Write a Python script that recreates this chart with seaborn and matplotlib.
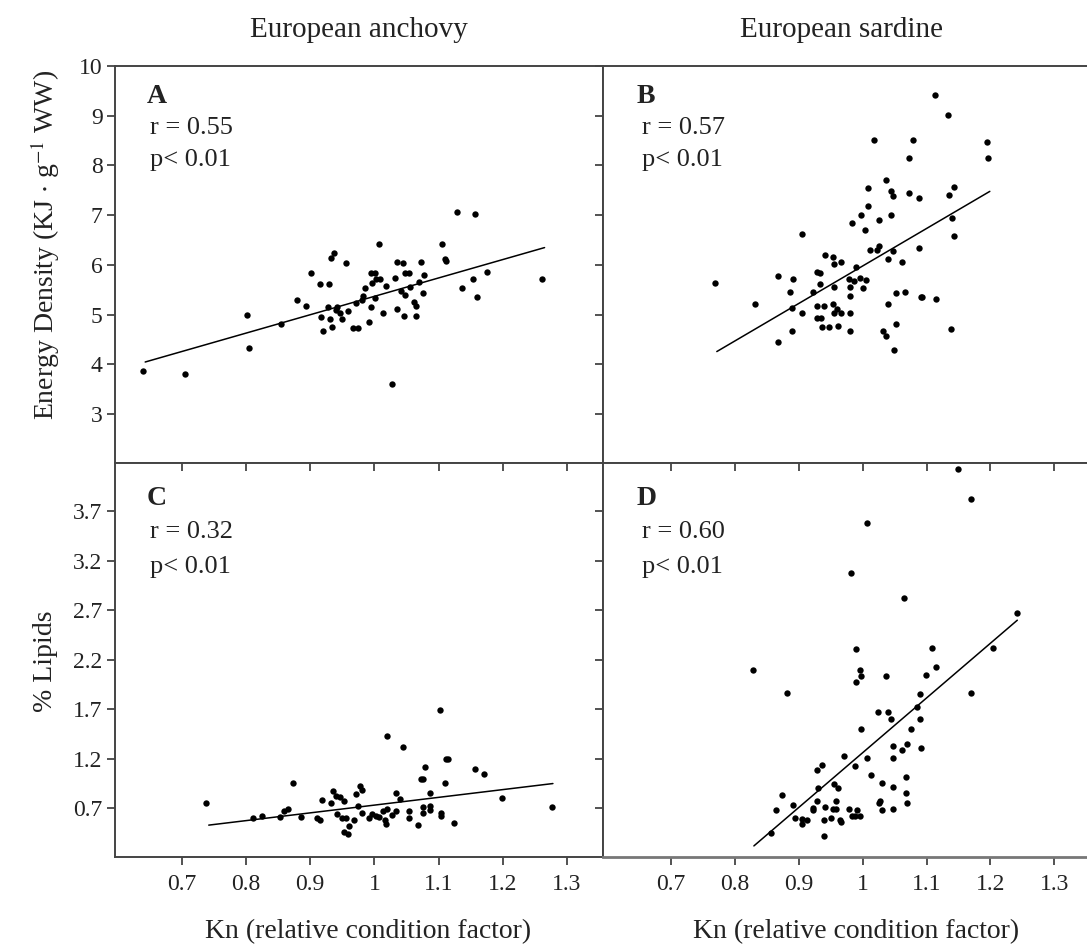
import numpy as np
import matplotlib
matplotlib.use("Agg")
import matplotlib.pyplot as plt
import seaborn as sns

# Panel A: anchovy, Kn vs energy density
a_kn = [0.640, 0.705, 0.801, 0.805, 0.854, 0.879, 0.893, 0.901, 0.915, 0.929,
        0.932, 0.937, 0.955, 0.927, 0.917, 0.920, 0.934, 0.931, 0.940, 0.946,
        0.949, 0.942, 0.959, 0.967, 0.975, 0.972, 0.980, 0.983, 0.985, 0.991,
        0.995, 1.001, 0.995, 1.001, 1.007, 1.003, 1.008, 0.997, 1.013, 1.018,
        1.027, 1.032, 1.035, 1.035, 1.045, 1.048, 1.054, 1.041, 1.047, 1.046,
        1.056, 1.061, 1.064, 1.064, 1.069, 1.073, 1.078, 1.076, 1.106, 1.110,
        1.112, 1.129, 1.156, 1.137, 1.154, 1.159, 1.175, 1.261]
a_ed = [3.87, 3.80, 5.00, 4.33, 4.81, 5.29, 5.17, 5.83, 5.61, 5.61,
        6.15, 6.24, 6.04, 5.15, 4.95, 4.68, 4.75, 4.91, 5.09, 5.03,
        4.91, 5.15, 5.08, 4.73, 4.73, 5.23, 5.29, 5.38, 5.53, 4.86,
        5.15, 5.33, 5.83, 5.84, 6.43, 5.71, 5.71, 5.63, 5.03, 5.57,
        3.61, 5.74, 5.11, 6.07, 6.04, 5.83, 5.83, 5.48, 5.39, 4.97,
        5.55, 5.26, 5.17, 4.97, 5.66, 6.07, 5.79, 5.43, 6.43, 6.13,
        6.08, 7.07, 7.03, 5.53, 5.71, 5.35, 5.86, 5.71]
a_fit_kn = [0.643, 1.265]
a_fit_ed = [4.05, 6.35]

# Panel B: sardine, Kn vs energy density
b_kn = [0.769, 0.831, 0.867, 0.867, 0.891, 0.886, 0.890, 0.889, 0.906, 0.905,
        0.923, 0.928, 0.934, 0.934, 0.929, 0.939, 0.929, 0.935, 0.937, 0.947,
        0.942, 0.953, 0.956, 0.966, 0.955, 0.953, 0.955, 0.960, 0.966, 0.962,
        0.981, 0.981, 0.981, 0.978, 0.986, 0.981, 0.990, 0.996, 1.001, 1.006,
        0.984, 0.998, 1.004, 1.009, 1.009, 1.018, 1.012, 1.022, 1.025, 1.025,
        1.037, 1.040, 1.040, 1.032, 1.037, 1.049, 1.052, 1.052, 1.045, 1.048,
        1.045, 1.048, 1.062, 1.067, 1.073, 1.073, 1.079, 1.088, 1.088, 1.091,
        1.113, 1.115, 1.133, 1.135, 1.143, 1.140, 1.143, 1.138, 1.194, 1.196,
        1.093]
b_ed = [5.64, 5.21, 5.77, 4.46, 5.71, 5.46, 5.14, 4.68, 5.03, 6.63,
        5.46, 5.85, 5.84, 5.61, 5.17, 5.17, 4.93, 4.93, 4.75, 4.75,
        6.21, 6.17, 6.03, 6.06, 5.56, 5.21, 5.03, 5.11, 5.03, 4.78,
        5.03, 4.68, 5.38, 5.71, 5.68, 5.56, 5.95, 5.73, 5.53, 5.70,
        6.85, 7.01, 6.70, 7.19, 7.55, 8.51, 6.31, 6.31, 6.38, 6.91,
        7.70, 6.13, 5.21, 4.68, 4.57, 4.29, 4.81, 5.43, 7.48, 7.38,
        7.01, 6.29, 6.06, 5.46, 7.45, 8.15, 8.51, 7.35, 6.34, 5.35,
        9.41, 5.31, 9.01, 7.41, 7.56, 6.95, 6.59, 4.71, 8.48, 8.15,
        5.36]
b_fit_kn = [0.772, 1.199]
b_fit_ed = [4.26, 7.48]

# Panel C: anchovy, Kn vs % lipids
c_kn = [0.738, 0.811, 0.825, 0.853, 0.859, 0.866, 0.873, 0.886, 0.910, 0.915,
        0.919, 0.933, 0.935, 0.940, 0.946, 0.952, 0.941, 0.950, 0.956, 0.960,
        0.953, 0.959, 0.968, 0.971, 0.977, 0.981, 0.974, 0.980, 0.992, 0.996,
        1.002, 1.007, 1.013, 1.016, 1.018, 1.019, 1.020, 1.027, 1.033, 1.033,
        1.040, 1.044, 1.054, 1.054, 1.068, 1.072, 1.076, 1.079, 1.087, 1.076,
        1.076, 1.087, 1.087, 1.104, 1.104, 1.110, 1.111, 1.115, 1.124, 1.157,
        1.171, 1.199, 1.276, 1.102]
c_lip = [0.75, 0.60, 0.62, 0.61, 0.67, 0.69, 0.96, 0.61, 0.60, 0.58,
         0.78, 0.75, 0.87, 0.82, 0.81, 0.77, 0.64, 0.60, 0.60, 0.52,
         0.46, 0.44, 0.58, 0.84, 0.93, 0.88, 0.72, 0.65, 0.60, 0.64,
         0.62, 0.61, 0.67, 0.58, 0.54, 1.43, 0.69, 0.63, 0.67, 0.85,
         0.79, 1.32, 0.67, 0.60, 0.53, 1.00, 1.00, 1.12, 0.85, 0.71,
         0.65, 0.72, 0.68, 0.65, 0.62, 0.96, 1.20, 1.20, 0.55, 1.10,
         1.05, 0.80, 0.71, 1.69]
c_fit_kn = [0.742, 1.278]
c_fit_lip = [0.53, 0.95]

# Panel D: sardine, Kn vs % lipids
d_kn = [1.150, 1.169, 1.007, 0.982, 1.064, 1.242, 0.990, 1.109, 1.204, 0.829,
        0.996, 0.998, 0.990, 1.036, 1.099, 1.115, 0.882, 1.169, 1.090, 1.085,
        1.024, 1.039, 1.045, 1.090,
        0.857, 0.865, 0.874, 0.891, 0.894, 0.905, 0.905, 0.913, 0.922, 0.923,
        0.928, 0.928, 0.936, 0.931, 0.939, 0.939, 0.942, 0.950, 0.953, 0.958,
        0.959, 0.956, 0.962, 0.964, 0.967, 0.971, 0.978, 0.983, 0.988, 0.992,
        0.996, 0.988, 0.998, 1.007, 1.013, 1.026, 1.027, 1.031, 1.031, 1.048,
        1.048, 1.048, 1.048, 1.062, 1.070, 1.068, 1.068, 1.070, 1.076, 1.091]
d_lip = [4.13, 3.82, 3.58, 3.08, 2.82, 2.67, 2.31, 2.32, 2.32, 2.10,
         2.10, 2.04, 1.98, 2.04, 2.05, 2.13, 1.86, 1.86, 1.85, 1.72,
         1.67, 1.67, 1.60, 1.60,
         0.45, 0.68, 0.83, 0.73, 0.60, 0.59, 0.54, 0.58, 0.68, 0.70,
         0.77, 1.09, 1.14, 0.90, 0.58, 0.42, 0.71, 0.60, 0.69, 0.69,
         0.77, 0.95, 0.90, 0.58, 0.56, 1.23, 0.69, 0.62, 0.62, 0.68,
         0.62, 1.13, 1.50, 1.21, 1.04, 0.75, 0.77, 0.68, 0.96, 0.69,
         0.92, 1.21, 1.33, 1.29, 1.35, 1.02, 0.85, 0.75, 1.50, 1.31]
d_fit_kn = [0.830, 1.242]
d_fit_lip = [0.32, 2.60]

kn_ticks = [0.7, 0.8, 0.9, 1.0, 1.1, 1.2, 1.3]
kn_labels = ["0.7", "0.8", "0.9", "1", "1.1", "1.2", "1.3"]
ed_ticks = [3, 4, 5, 6, 7, 8, 9, 10]
lip_ticks = [0.7, 1.2, 1.7, 2.2, 2.7, 3.2, 3.7]
lip_labels = ["0.7", "1.2", "1.7", "2.2", "2.7", "3.2", "3.7"]

sns.set_style("white")
plt.rcParams["font.family"] = ["Liberation Serif", "DejaVu Serif"]
plt.rcParams["mathtext.fontset"] = "stix"

W, H = 1087, 947
fig = plt.figure(figsize=(W / 100, H / 100), dpi=100)

def box(x0, x1, ytop, ybot):
    return [x0 / W, (H - ybot) / H, (x1 - x0) / W, (ybot - ytop) / H]

ax_a = fig.add_axes(box(115, 603, 66, 463))
ax_b = fig.add_axes(box(603, 1087, 66, 463))
ax_c = fig.add_axes(box(115, 603, 463, 857))
ax_d = fig.add_axes(box(603, 1087, 463, 857))

txt = "#222222"
spine_col = "#444444"

panels = [
    (ax_a, a_kn, a_ed, a_fit_kn, a_fit_ed, "A", "r = 0.55", (0.596, 1.356), (2.02, 10.0)),
    (ax_b, b_kn, b_ed, b_fit_kn, b_fit_ed, "B", "r = 0.57", (0.594, 1.351), (2.02, 10.0)),
    (ax_c, c_kn, c_lip, c_fit_kn, c_fit_lip, "C", "r = 0.32", (0.596, 1.356), (0.208, 4.188)),
    (ax_d, d_kn, d_lip, d_fit_kn, d_fit_lip, "D", "r = 0.60", (0.594, 1.351), (0.208, 4.188)),
]

for ax, xs, ys, fx, fy, letter, rtxt, xl, yl in panels:
    sns.scatterplot(x=xs, y=ys, ax=ax, color="black", s=21, linewidth=0)
    sns.lineplot(x=fx, y=fy, ax=ax, color="black", linewidth=1.1)
    ax.set_xlim(*xl)
    ax.set_ylim(*yl)
    for sp in ax.spines.values():
        sp.set_color(spine_col)
        sp.set_linewidth(1.4)
    ax.spines["right"].set_visible(False)
    top = ax in (ax_a, ax_b)
    ly = (0.922, 0.843, 0.763) if top else (0.911, 0.826, 0.737)
    lx = (0.065, 0.072) if ax in (ax_a, ax_c) else (0.069, 0.081)
    ax.text(lx[0], ly[0], letter, transform=ax.transAxes, fontsize=20,
            fontweight="bold", color=txt, va="center", ha="left")
    ax.text(lx[1], ly[1], rtxt, transform=ax.transAxes, fontsize=19,
            color=txt, va="center", ha="left")
    ax.text(lx[1], ly[2], "p< 0.01", transform=ax.transAxes, fontsize=19,
            color=txt, va="center", ha="left")
    ax.set_xlabel("")
    ax.set_ylabel("")

# left column keeps its right spine (shared border with inward ticks)
ax_a.spines["right"].set_visible(True)
ax_c.spines["right"].set_visible(True)

tick_kw = dict(length=6, width=1.3, color=spine_col, labelsize=17,
               labelcolor=txt)

# A: y ticks left out, right in
ax_a.set_yticks(ed_ticks)
ax_a.set_xticks([])
ax_a.tick_params(axis="y", which="both", direction="out", left=True,
                 right=False, labelleft=True, pad=3, **tick_kw)
ax_a_r = ax_a.secondary_yaxis("right")
ax_a_r.set_yticks(ed_ticks)
ax_a_r.tick_params(direction="in", length=6, width=1.3, color=spine_col,
                   labelright=False)
ax_a_r.spines["right"].set_visible(False)

# B: no ticks
ax_b.set_xticks([])
ax_b.set_yticks([])

# C: left out with labels, bottom out with labels, top in, right in
ax_c.set_yticks(lip_ticks)
ax_c.set_yticklabels(lip_labels)
ax_c.set_xticks(kn_ticks)
ax_c.set_xticklabels(kn_labels)
ax_c.tick_params(axis="y", direction="out", left=True, labelleft=True,
                 pad=3, **tick_kw)
ax_c.tick_params(axis="x", direction="out", bottom=True, labelbottom=True,
                 pad=6, **tick_kw)
ax_c_r = ax_c.secondary_yaxis("right")
ax_c_r.set_yticks(lip_ticks)
ax_c_r.tick_params(direction="in", length=6, width=1.3, color=spine_col,
                   labelright=False)
ax_c_r.spines["right"].set_visible(False)
ax_c_t = ax_c.secondary_xaxis("top")
ax_c_t.set_xticks(kn_ticks)
ax_c_t.tick_params(direction="in", length=6, width=1.3, color=spine_col,
                   labeltop=False)
ax_c_t.spines["top"].set_visible(False)

# D: bottom out with labels, top in
ax_d.set_yticks([])
ax_d.set_xticks(kn_ticks)
ax_d.set_xticklabels(kn_labels)
ax_d.tick_params(axis="x", direction="out", bottom=True, labelbottom=True,
                 pad=6, **tick_kw)
ax_d.spines["bottom"].set_color("#777777")
ax_d.spines["bottom"].set_linewidth(2.0)
ax_d_t = ax_d.secondary_xaxis("top")
ax_d_t.set_xticks(kn_ticks)
ax_d_t.tick_params(direction="in", length=6, width=1.3, color=spine_col,
                   labeltop=False)
ax_d_t.spines["top"].set_visible(False)

fig.text(359 / W, 1 - 30 / H, "European anchovy", ha="center", va="center",
         fontsize=21, color=txt)
fig.text(842 / W, 1 - 30 / H, "European sardine", ha="center", va="center",
         fontsize=21, color=txt)
fig.text(368 / W, 1 - 932 / H, "Kn (relative condition factor)", ha="center",
         va="center", fontsize=20, color=txt)
fig.text(856 / W, 1 - 932 / H, "Kn (relative condition factor)", ha="center",
         va="center", fontsize=20, color=txt)
fig.text(45 / W, 1 - 245 / H, r"Energy Density (KJ $\cdot$ g$^{-1}$ WW)",
         ha="center", va="center", rotation=90, fontsize=20, color=txt)
fig.text(45 / W, 1 - 661 / H, "% Lipids", ha="center", va="center",
         rotation=90, fontsize=20, color=txt)

fig.savefig("out.png", dpi=100, facecolor="white")
